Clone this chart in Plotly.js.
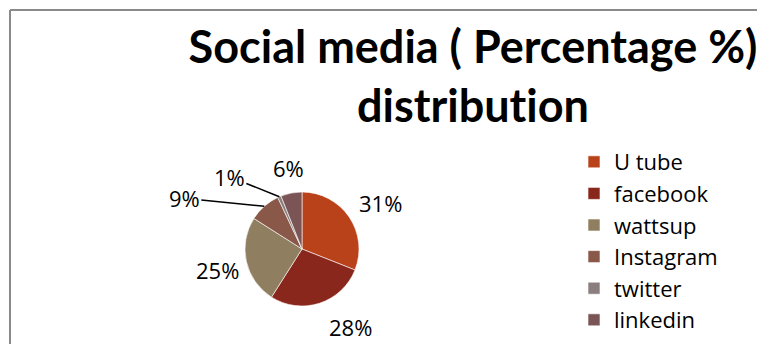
<!DOCTYPE html>
<html>
<head>
<meta charset="utf-8">
<script src="https://cdn.plot.ly/plotly-3.0.1.min.js"></script>
<style>html,body{margin:0;padding:0;background:#fff;}#chart{width:757px;height:344px;}text{font-variant-ligatures:none;font-feature-settings:"liga" 0,"clig" 0;}</style>
</head>
<body>
<div id="chart"></div>
<script>
// ---- data ----
var categories = ["U tube", "facebook", "wattsup", "Instagram", "twitter", "linkedin"];
var percentages = [31, 28, 25, 9, 1, 6];
var sliceColors = ["#B9421A", "#8A271D", "#8F7E5F", "#8A5849", "#8B7E7E", "#7B5556"];

// ---- layout / style (not data) ----
var W = 757, H = 344;
var pieCx = 302, pieCy = 249, pieR = 57;          // pixels
// text offset of each label from the slice edge point (px, y down); leader = draw line
var labelOffsets = [[31, -14], [31, 24], [-29, 9], [-80, -8], [-50, -20], [-3, -25]];
var labelLeader = [false, false, false, true, true, false];
var fontFam = "'Open Sans', Lato, sans-serif";
var titleFam = "Lato, 'Open Sans', sans-serif";

var total = percentages.reduce(function (a, b) { return a + b; }, 0);
var annotations = [];
var cum = 0;
for (var i = 0; i < percentages.length; i++) {
  var frac = percentages[i] / total;
  var mid = (cum + frac / 2) * 2 * Math.PI; // clockwise from 12 o'clock
  cum += frac;
  var ex = pieCx + pieR * Math.sin(mid);
  var ey = pieCy - pieR * Math.cos(mid);
  var txt = Math.round(frac * 100) + "%";
  var a = {
    x: ex / W, y: 1 - ey / H, xref: "paper", yref: "paper",
    xanchor: "center", yanchor: "middle",
    text: txt, font: {family: fontFam, size: 22, color: "#000"}
  };
  if (labelLeader[i]) {
    a.showarrow = true; a.arrowhead = 0; a.arrowwidth = 1.5; a.arrowcolor = "#000";
    a.ax = labelOffsets[i][0]; a.ay = labelOffsets[i][1]; a.standoff = 0;
  } else {
    a.showarrow = false;
    a.xshift = labelOffsets[i][0]; a.yshift = -labelOffsets[i][1];
  }
  annotations.push(a);
}

var trace = {
  type: "pie",
  labels: categories,
  values: percentages,
  sort: false,
  direction: "clockwise",
  rotation: 0,
  textinfo: "none",
  hoverinfo: "label+percent",
  marker: {colors: sliceColors, line: {color: "#ffffff", width: 0.6}},
  domain: {x: [(pieCx - pieR) / W, (pieCx + pieR) / W], y: [1 - (pieCy + pieR) / H, 1 - (pieCy - pieR) / H]}
};

var layout = {
  width: W, height: H,
  margin: {l: 0, r: 0, t: 0, b: 0},
  paper_bgcolor: "#ffffff",
  showlegend: true,
  title: {
    text: "Social media ( Percentage %)<br>distribution",
    font: {family: titleFam, size: 45, color: "#000", weight: "bold"},
    x: 473 / W, xanchor: "center", xref: "paper",
    y: 1 - 63 / H, yanchor: "top", yref: "container"
  },
  legend: {
    x: 574 / W, y: 1 - 141 / H, xanchor: "left", yanchor: "top",
    font: {family: fontFam, size: 22, color: "#000"},
    bgcolor: "rgba(0,0,0,0)", tracegroupgap: 0, itemclick: false
  },
  annotations: annotations,
  shapes: [
    {type: "line", xref: "paper", yref: "paper", x0: 10 / W, x1: 10 / W, y0: 0, y1: 1 - 10 / H, line: {color: "#8A8A8A", width: 2}},
    {type: "line", xref: "paper", yref: "paper", x0: 10 / W, x1: 1, y0: 1 - 10 / H, y1: 1 - 10 / H, line: {color: "#8A8A8A", width: 2}}
  ]
};

Plotly.newPlot("chart", [trace], layout, {displayModeBar: false, staticPlot: true});
</script>
</body>
</html>
